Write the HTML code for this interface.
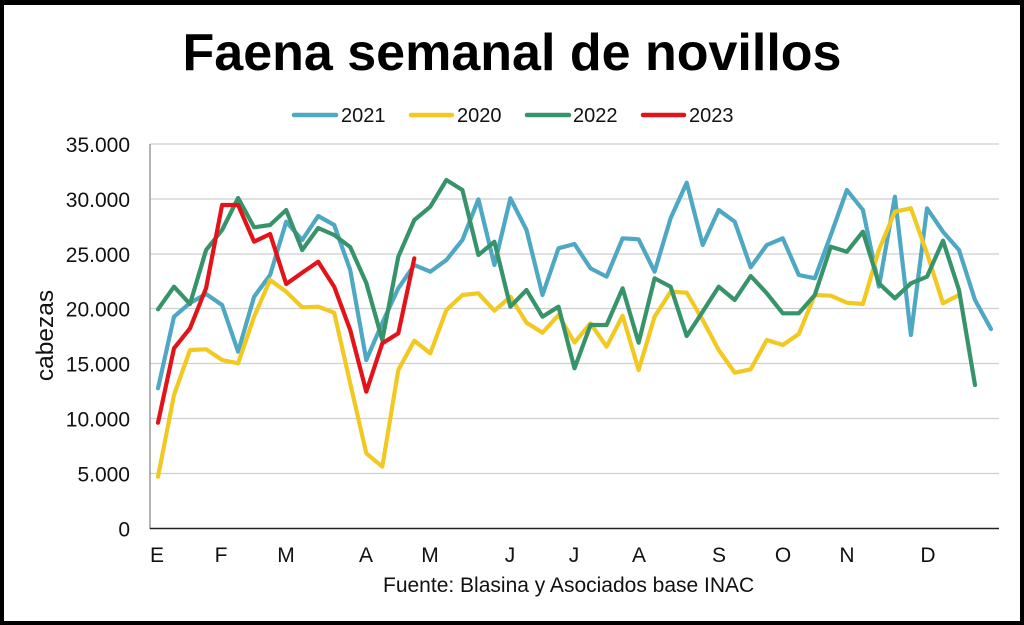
<!DOCTYPE html>
<html><head><meta charset="utf-8"><style>
html,body{margin:0;padding:0;background:#fff;}
.f{width:1024px;height:625px;box-sizing:border-box;border:4px solid #000;border-top-width:5px;position:relative;overflow:hidden;background:#fff;}
svg{position:absolute;left:-4px;top:-5px;}
text{font-family:"Liberation Sans",Arial,sans-serif;fill:#111;}
</style></head><body><div class="f">
<svg width="1024" height="625" viewBox="0 0 1024 625" xmlns="http://www.w3.org/2000/svg">
<text x="512" y="70" text-anchor="middle" font-size="52" font-weight="bold" fill="#000" style="fill:#000">Faena semanal de novillos</text>
<g stroke-width="4.5" stroke-linecap="round">
<line x1="294" y1="115" x2="336" y2="115" stroke="#4ea8c4"/>
<line x1="411" y1="115" x2="452" y2="115" stroke="#f2c922"/>
<line x1="527" y1="115" x2="569" y2="115" stroke="#37936a"/>
<line x1="643" y1="115" x2="684" y2="115" stroke="#e2141a"/>
</g>
<g font-size="20">
<text x="341" y="122">2021</text>
<text x="457" y="122">2020</text>
<text x="573" y="122">2022</text>
<text x="689" y="122">2023</text>
</g>
<g stroke="#cfcfcf" stroke-width="1.3">
<line x1="150" y1="144" x2="999" y2="144"/>
<line x1="150" y1="199" x2="999" y2="199"/>
<line x1="150" y1="254" x2="999" y2="254"/>
<line x1="150" y1="308.5" x2="999" y2="308.5"/>
<line x1="150" y1="363.5" x2="999" y2="363.5"/>
<line x1="150" y1="418.5" x2="999" y2="418.5"/>
<line x1="150" y1="473.5" x2="999" y2="473.5"/>
</g>
<line x1="150" y1="144" x2="150" y2="529" stroke="#8a8a8a" stroke-width="1.3"/>
<line x1="150" y1="528.5" x2="999" y2="528.5" stroke="#222" stroke-width="1.5"/>
<g font-size="21" text-anchor="end">
<text x="130" y="152">35.000</text>
<text x="130" y="207">30.000</text>
<text x="130" y="262">25.000</text>
<text x="130" y="316.5">20.000</text>
<text x="130" y="371.5">15.000</text>
<text x="130" y="426.5">10.000</text>
<text x="130" y="481.5">5.000</text>
<text x="130" y="536.5">0</text>
</g>
<text transform="translate(53,335.5) rotate(-90)" text-anchor="middle" font-size="24.5">cabezas</text>
<g font-size="21" text-anchor="middle">
<text x="157" y="562">E</text>
<text x="221" y="562">F</text>
<text x="286" y="562">M</text>
<text x="366" y="562">A</text>
<text x="430" y="562">M</text>
<text x="510" y="562">J</text>
<text x="574" y="562">J</text>
<text x="639" y="562">A</text>
<text x="719" y="562">S</text>
<text x="783" y="562">O</text>
<text x="847" y="562">N</text>
<text x="928" y="562">D</text>
</g>
<text x="383" y="592" font-size="21">Fuente: Blasina y Asociados base INAC</text>
<g fill="none" stroke-width="4.2" stroke-linejoin="round" stroke-linecap="round">
<polyline stroke="#4ea8c4" points="158,388.3 174,316.7 190,303 206.1,294 222.1,305 238.1,351.7 254.1,296.7 270.1,275 286.2,221.7 302.2,240 318.2,216 334.2,225 350.2,270 366.3,360 382.3,323 398.3,288.3 414.3,265 430.3,271.7 446.4,260 462.4,240 478.4,199.3 494.4,265 510.4,198.3 526.5,230 542.5,295 558.5,248.3 574.5,244 590.5,268.3 606.6,276.7 622.6,238.3 638.6,239.3 654.6,271.7 670.6,218.3 686.7,182.7 702.7,245 718.7,210 734.7,221.7 750.7,267.3 766.8,245 782.8,238.3 798.8,275 814.8,278.3 830.8,235 846.9,190 862.9,210 878.9,286.7 894.9,196.7 910.9,335 927,208.3 943,231.7 959,250 975,300 991,329"/>
<polyline stroke="#f2c922" points="158,476.7 174,395 190,350 206.1,349.3 222.1,360 238.1,363.3 254.1,316.7 270.1,280 286.2,291.7 302.2,307.3 318.2,306.7 334.2,312.7 350.2,383.3 366.3,453.3 382.3,466.7 398.3,370 414.3,340.7 430.3,353.3 446.4,310 462.4,295 478.4,293.3 494.4,310.7 510.4,296.7 526.5,322.7 542.5,332.7 558.5,315 574.5,342.5 590.5,323.3 606.6,346.7 622.6,315.7 638.6,370 654.6,316.7 670.6,291.7 686.7,292.7 702.7,320 718.7,350 734.7,372.7 750.7,369.3 766.8,340 782.8,345 798.8,334 814.8,295 830.8,295.7 846.9,302.7 862.9,304 878.9,250 894.9,211.7 910.9,208.3 927,253.3 943,303.3 959,295"/>
<polyline stroke="#37936a" points="158,309.3 174,286.7 190,304 206.1,250 222.1,230 238.1,198 254.1,227.3 270.1,225 286.2,210 302.2,250 318.2,228 334.2,235 350.2,247 366.3,283 382.3,340 398.3,256.7 414.3,220 430.3,206.7 446.4,180 462.4,190 478.4,255 494.4,241.7 510.4,306.7 526.5,290 542.5,316.7 558.5,306.7 574.5,368.3 590.5,325 606.6,325 622.6,288.3 638.6,342.7 654.6,278.3 670.6,286.7 686.7,336 702.7,311.7 718.7,286.7 734.7,300 750.7,276 766.8,293.3 782.8,313.3 798.8,313.3 814.8,295 830.8,246.7 846.9,251.7 862.9,231.7 878.9,283.3 894.9,298.3 910.9,283.3 927,276.7 943,240.7 959,290 975,385"/>
<polyline stroke="#e2141a" points="158,422.7 174,348.3 190,328.3 206.1,288 222.1,205 238.1,205 254.1,241.7 270.1,234 286.2,284 302.2,272.7 318.2,261.7 334.2,286.7 350.2,330 366.3,391.7 382.3,343.3 398.3,333.3 414.3,258.3"/>
</g>
</svg>
</div></body></html>
